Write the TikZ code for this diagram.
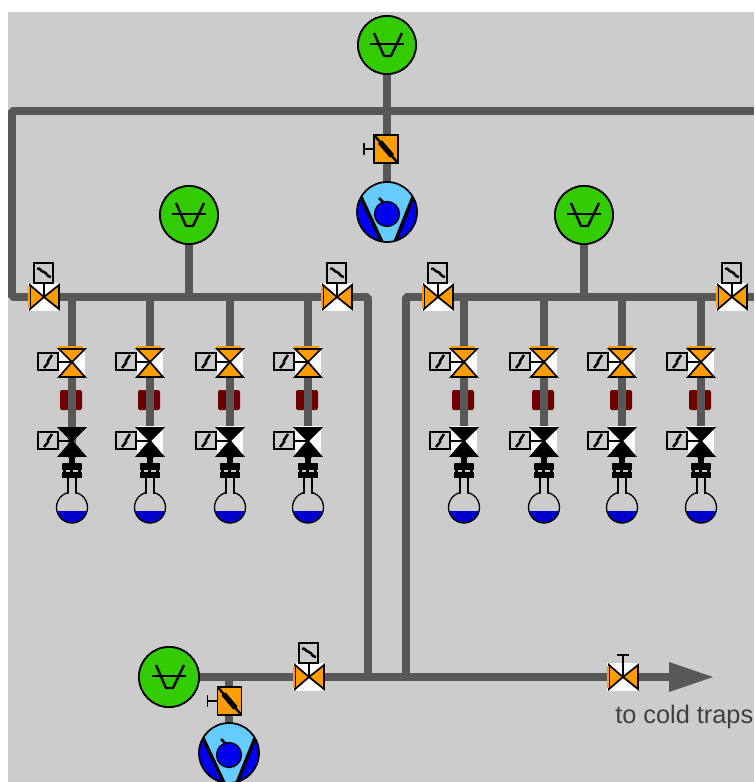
\documentclass[tikz,border=0pt]{standalone}
\usepackage{fontspec}
\setmainfont{Liberation Sans}
\definecolor{bg}{HTML}{CCCCCC}
\definecolor{pipec}{HTML}{585858}
\definecolor{orangev}{HTML}{FF9C00}
\definecolor{greeng}{HTML}{33CC00}
\definecolor{lightb}{HTML}{66CCFF}
\definecolor{blueb}{HTML}{0000F0}
\definecolor{liquid}{HTML}{0000C8}
\definecolor{darkred}{HTML}{6E0000}
\tikzset{
  pipe/.style={draw=pipec,line width=6pt,line join=bevel},
  ink/.style={draw=black,line width=1.3pt},
  thin ink/.style={draw=black,line width=1pt},
  gaugenode/.style={circle,draw=black,line width=1.3pt,fill=greeng,inner sep=0pt,minimum size=43.5pt},
  pumpnode/.style={circle,inner sep=0pt,minimum size=45pt},
  ctrlbox/.style={draw=black,line width=1.4pt,fill=bg}
}
% horizontal valve: #1 x, #2 y, #3 actuator: 1 squiggle box, 0 bar
\newcommand{\HValve}[3]{%
  \begin{scope}[shift={(#1,#2)}]
    \fill[white] (-16,-14) rectangle (16,14);
    \draw[ink,fill=orangev,line join=miter] (-14,-12) -- (0,0) -- (-14,12) -- cycle;
    \draw[ink,fill=orangev,line join=miter] (15,-12) -- (0,0) -- (15,12) -- cycle;
    \fill[orangev] (-16,-11) rectangle (-14,11);
    \draw[thin ink] (0,0) -- (0,-14);
    \ifnum#3=1
      \draw[ctrlbox] (-10,-34) rectangle (9,-14);
      \draw[black,line width=1.9pt] (-7,-28) .. controls (-4,-30) and (-3,-25) .. (0,-25) .. controls (2,-25) and (3,-20) .. (7,-20);
    \else
      \draw[thin ink] (0,-14) -- (0,-22);
      \draw[thin ink] (-6,-22) -- (6,-22);
    \fi
  \end{scope}}
% vertical valve: #1 x, #2 y, #3 fill, #4 white backdrop, #5 top bar
\newcommand{\VValve}[5]{%
  \begin{scope}[shift={(#1,#2)}]
    \ifnum#4=1 \fill[white] (-13,-15) rectangle (13,15); \fi
    \ifnum#5=1 \fill[orangev] (-14,-16) rectangle (11,-14); \fi
    \draw[ink,fill=#3] (-13,-13) -- (13,-13) -- (0,0) -- cycle;
    \draw[ink,fill=#3] (-13,15) -- (13,15) -- (0,0) -- cycle;
    \draw[thin ink] (0,0) -- (-14,0);
    \draw[ctrlbox] (-34,-9) rectangle (-14,8);
    \draw[black,line width=1.9pt] (-28,6) -- (-24,1) -- (-24,-1) -- (-20,-7);
  \end{scope}}
% gauge symbol on a named node
\newcommand{\GaugeSym}[1]{%
  \begin{scope}[shift={(#1)}]
    \draw[black,line width=1.8pt,line join=round] (-13,-12) -- (-3,11) -- (4,11) -- (15,-12);
    \draw[black,line width=1.5pt] (-17,-1) -- (17,-1);
  \end{scope}}
% pump symbol
\newcommand{\PumpSym}[1]{%
  \begin{scope}[shift={(#1)}]
    \begin{scope}
      \clip (0,0) circle[radius=30];
      \fill[blueb] (-31,-31) rectangle (31,31);
      \fill[lightb] (-26,-15) -- (-5,30) -- (8,30) -- (26,-15) -- (26,-32) -- (-26,-32) -- cycle;
      \draw[black,line width=2.6pt] (-26,-15) -- (-5,30);
      \draw[black,line width=2.6pt] (26,-15) -- (8,30);
    \end{scope}
    \draw[black,line width=1.3pt] (0,0) circle[radius=30];
    \draw[black,line width=1pt,fill=blueb] (0,2) circle[radius=12.5];
    \draw[black,line width=2pt] (-8,-14) -- (-3,-9);
  \end{scope}}
% damper with handle
\newcommand{\Damper}[2]{%
  \begin{scope}[shift={(#1,#2)}]
    \draw[thin ink] (-13,0) -- (-22,0);
    \draw[thin ink] (-22,-6) -- (-22,6);
    \draw[ink,fill=orangev] (-12,-14) rectangle (12,14);
    \draw[black,line width=1.8pt] (-11,-13) -- (11,13);
    \draw[black,line width=4pt] (-6,-7) -- (6,7);
  \end{scope}}
% flask column lower part
\newcommand{\Column}[2]{%
  \begin{scope}[shift={(#1,0)}]
    \fill[darkred,rounded corners=1.5pt] (-12,390) rectangle (-3,410);
    \fill[darkred,rounded corners=1.5pt] (3,390) rectangle (10,410);
    \fill[pipec] (-4,380) rectangle (4,425);
    \VValve{0}{362}{orangev}{1}{1}
    \VValve{0}{441}{black}{#2}{0}
    \fill[black] (-3,456) rectangle (3,464);
    \fill[black] (-10,463) rectangle (10,478);
    \fill[bg] (-6,470) rectangle (-2,471.5);
    \fill[bg] (1,470) rectangle (6,471.5);
    \fill[bg] (-11,469.5) rectangle (-9,471.5);
    \fill[bg] (9,469.5) rectangle (11,471.5);
    \draw[thin ink] (-4,478) -- (-4,494);
    \draw[thin ink] (4,478) -- (4,494);
    \begin{scope}
      \clip (0,507.5) circle[radius=15.5];
      \fill[liquid] (-17,511) rectangle (17,525);
    \end{scope}
    \draw[thin ink] (0,507.5) circle[radius=15.5];
    \fill[bg] (-3.2,491) rectangle (3.2,495);
  \end{scope}}
\begin{document}
\begin{tikzpicture}[x=0.75pt,y=-0.75pt]
\useasboundingbox (0,0) rectangle (754,782);
\clip (0,0) rectangle (754,782);
\fill[white] (0,0) rectangle (754,782);
\fill[bg] (8,12) rectangle (754,782);

% named points
\node[gaugenode] (gTop) at (387,45) {};
\node[gaugenode] (gL) at (189,215) {};
\node[gaugenode] (gR) at (584,215) {};
\node[gaugenode,minimum size=45pt] (gB) at (169,677) {};
\node[pumpnode] (pTop) at (387,212) {};
\node[pumpnode] (pB) at (229,753) {};
\coordinate (trunkEastTop) at (754,111);
\coordinate (cornerTL) at (12,111);
\coordinate (cornerBL) at (12,297);
\coordinate (hdrLend) at (368,297);
\coordinate (hdrRstart) at (406,297);
\coordinate (hdrRend) at (754,297);
\coordinate (joinL) at (368,677);
\coordinate (joinR) at (406,677);
\coordinate (outEnd) at (672,677);
\coordinate (hGL) at (189,297);
\coordinate (hGR) at (584,297);
\coordinate (hTop) at (387,111);

% pipes
\draw[pipe] (trunkEastTop) -- (cornerTL) -- (cornerBL) -- (hdrLend) -- (joinL);
\draw[pipe] (joinR) -- (hdrRstart) -- (hdrRend);
\draw[pipe] (gTop) -- (pTop);
\draw[pipe] (gL) -- (hGL);
\draw[pipe] (gR) -- (hGR);
\draw[pipe] (gB) -- (outEnd);
\draw[pipe] (gB -| pB) -- (pB);
\foreach \cx/\n in {72/a,150/b,230/c,308/d,464/e,544/f,622/g,701/h}{
  \coordinate (top\n) at (\cx,297);
  \coordinate (low\n) at (\cx,458);
  \draw[pipe] (top\n) -- (low\n);
}

% gauges redrawn above pipes
\node[gaugenode] (gTopF) at (gTop) {};
\node[gaugenode] (gLF) at (gL) {};
\node[gaugenode] (gRF) at (gR) {};
\node[gaugenode,minimum size=45pt] (gBF) at (gB) {};
\GaugeSym{gTop}
\GaugeSym{gL}
\GaugeSym{gR}
\GaugeSym{gB}

% pumps and dampers
\PumpSym{pTop}
\PumpSym{pB}
\Damper{386}{149}
\Damper{229.5}{701}

% valves
\HValve{44}{297}{1}
\HValve{337}{297}{1}
\HValve{438}{297}{1}
\HValve{732}{297}{1}
\HValve{309}{677}{1}
\HValve{623}{677}{0}

% columns
\Column{72}{0}
\Column{150}{1}
\Column{230}{1}
\Column{308}{1}
\Column{464}{1}
\Column{544}{1}
\Column{622}{1}
\Column{701}{1}

% outlet arrow
\fill[pipec] (669,662) -- (713,677) -- (669,692) -- cycle;

\node[anchor=base west,inner sep=0pt,font=\fontsize{19pt}{22pt}\selectfont,text=black!75] (lbl) at (615,723) {to cold traps};
\end{tikzpicture}
\end{document}
